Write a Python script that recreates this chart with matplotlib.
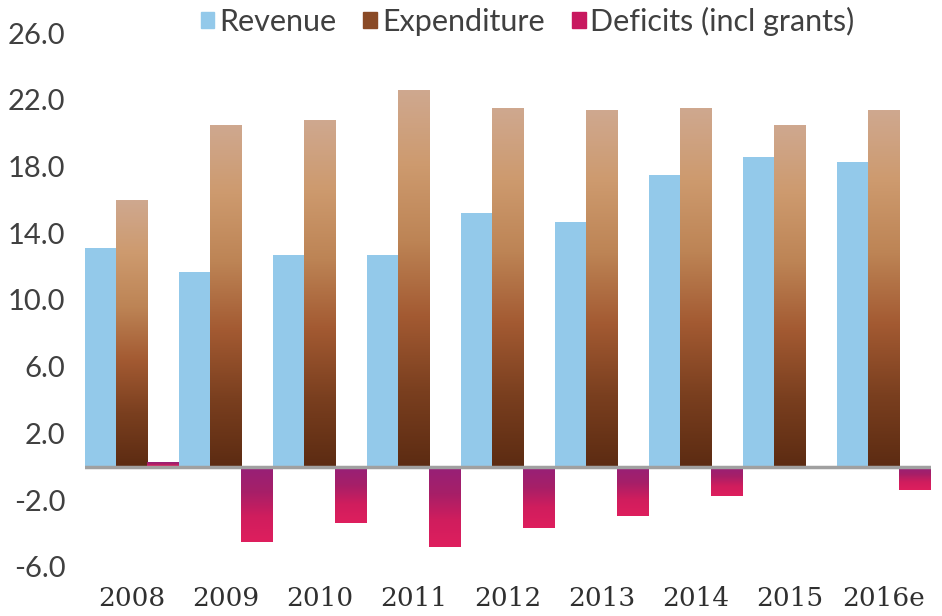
import numpy as np
import matplotlib.pyplot as plt
from matplotlib.colors import LinearSegmentedColormap
from matplotlib.patches import Patch

years = ['2008', '2009', '2010', '2011', '2012', '2013', '2014', '2015', '2016e']
revenue = [13.1, 11.7, 12.7, 12.7, 15.2, 14.7, 17.5, 18.6, 18.3]
expenditure = [16.0, 20.5, 20.8, 22.6, 21.5, 21.4, 21.5, 20.5, 21.4]
deficits = [0.25, -4.5, -3.4, -4.8, -3.7, -2.95, -1.75, 0.0, -1.4]

exp_cmap = LinearSegmentedColormap.from_list(
    'exp', ['#5c2b12', '#7a3f1f', '#a35a32', '#bd8455', '#cd9a6e', '#cfa88f'])
def_cmap = LinearSegmentedColormap.from_list(
    'def', ['#de1f5e', '#d01d5d', '#a61f68', '#962078'])

fig = plt.figure(figsize=(9.42, 6.16), dpi=100)
ax = fig.add_axes([0.090, 0.080, 0.898, 0.866])

x = np.arange(len(years))
w = 1 / 3
ax.bar(x - w, revenue, w, color='#93c9ea')
bars_exp = ax.bar(x, expenditure, w, color='none')
bars_def = ax.bar(x + w, deficits, w, color='none')

grad = np.linspace(0, 1, 256).reshape(-1, 1)


def fill_gradient(bars, cmap):
    # each bar gets its own vertical gradient
    for b in bars:
        x0, y0 = b.get_x(), b.get_y()
        x1, y1 = x0 + b.get_width(), y0 + b.get_height()
        if y1 == y0:
            continue
        lo, hi = min(y0, y1), max(y0, y1)
        ax.imshow(grad, cmap=cmap, extent=[x0, x1, lo, hi], origin='lower',
                  aspect='auto', zorder=2)


fill_gradient(bars_exp, exp_cmap)
fill_gradient(bars_def, def_cmap)

ax.axhline(0, color='#a0a0a0', lw=2.5, zorder=3)

ax.set_xlim(-0.5, len(years) - 0.5)
ax.set_ylim(-6, 26)
ax.set_yticks(np.arange(-6, 27, 4))
ax.set_yticklabels(['%.1f' % v for v in np.arange(-6, 27, 4)],
                   fontsize=21, color='#404040', family='Lato')
ax.set_xticks(x)
ax.set_xticklabels(years, fontsize=19, color='#303030', family='DejaVu Serif')
ax.tick_params(axis='both', length=0)
ax.tick_params(axis='x', pad=14)
ax.tick_params(axis='y', pad=14)
for s in ax.spines.values():
    s.set_visible(False)

handles = [Patch(color='#93c9ea', label='Revenue'),
           Patch(color='#8a4a26', label='Expenditure'),
           Patch(color='#c8185f', label='Deficits (incl grants)')]
fig.legend(handles=handles, loc='center', bbox_to_anchor=(0.56, 0.965), ncol=3,
           frameon=False, handlelength=0.45, handleheight=0.45, handletextpad=0.15,
           columnspacing=0.9, prop={'family': 'Lato', 'size': 22},
           labelcolor='#404040')

plt.savefig('out.png', dpi=100)
